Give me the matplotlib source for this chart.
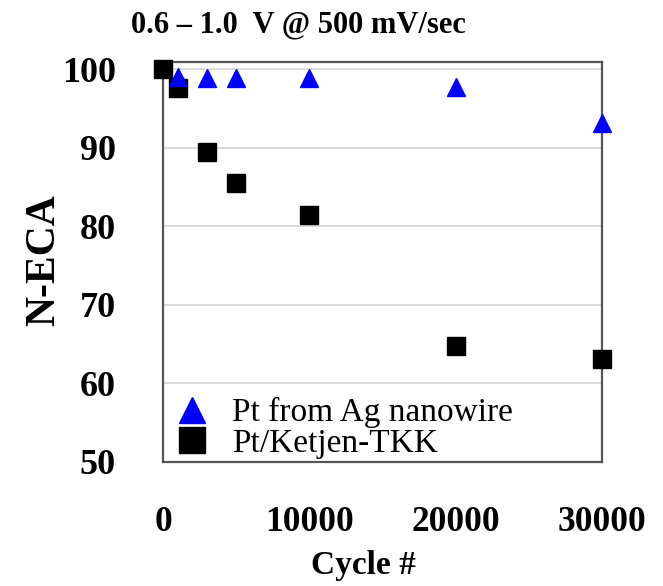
import matplotlib
matplotlib.use("Agg")
import matplotlib.pyplot as plt

plt.rcParams['font.family'] = ['Liberation Serif', 'DejaVu Serif']

cycles_ag = [1000, 3000, 5000, 10000, 20000, 30000]
eca_ag = [99.0, 98.9, 98.9, 98.9, 97.7, 93.1]
cycles_tkk = [0, 1000, 3000, 5000, 10000, 20000, 30000]
eca_tkk = [100.0, 97.6, 89.5, 85.5, 81.4, 64.8, 63.1]
xticks = [0, 10000, 20000, 30000]
yticks = [50, 60, 70, 80, 90, 100]
labels = ["Pt from Ag nanowire", "Pt/Ketjen-TKK"]

fig = plt.figure(figsize=(6.63, 5.86), dpi=100)
ax = fig.add_axes([163/663, 124/586, 439/663, 400/586])

ax.plot(cycles_ag, eca_ag, linestyle='none', marker='^', color='#0000ff',
        markersize=13, clip_on=False, zorder=4, label=labels[0])
ax.plot(cycles_tkk, eca_tkk, linestyle='none', marker='s', color='black',
        markersize=13, clip_on=False, zorder=3, label=labels[1])

ax.set_xlim(0, 30000)
ax.set_ylim(50, 100.9)
ax.set_xticks(xticks)
ax.set_xticklabels([str(v) for v in xticks])
ax.set_yticks(yticks)
ax.grid(axis='y', color='#d6d6d6', linewidth=1.2)
ax.set_axisbelow(True)
for s in ax.spines.values():
    s.set_color('#555555')
    s.set_linewidth(1.6)
ax.tick_params(length=0)
ax.tick_params(axis='x', pad=32, labelsize=25.5)
ax.tick_params(axis='y', pad=34, labelsize=26)
for t in ax.get_xticklabels() + ax.get_yticklabels():
    t.set_fontweight('bold')

leg = ax.legend(loc='lower left', bbox_to_anchor=(0.028, 0.008), frameon=False,
                fontsize=24, markerscale=1.45, handlelength=1.0, handletextpad=0.7,
                labelspacing=0.0, borderpad=0.0, borderaxespad=0.0)

fig.text(298/663, 1 - 25/586, "0.6 – 1.0  V @ 500 mV/sec", ha='center', va='center',
         fontsize=22, fontweight='bold')
fig.text(44/663, 1 - 260/586, "N-ECA", rotation=90, ha='center', va='center',
         fontsize=30, fontweight='bold')
fig.text(363/663, 1 - 550/586, "Cycle #", ha='center', va='top',
         fontsize=24, fontweight='bold')

fig.savefig("out.png", dpi=100)
